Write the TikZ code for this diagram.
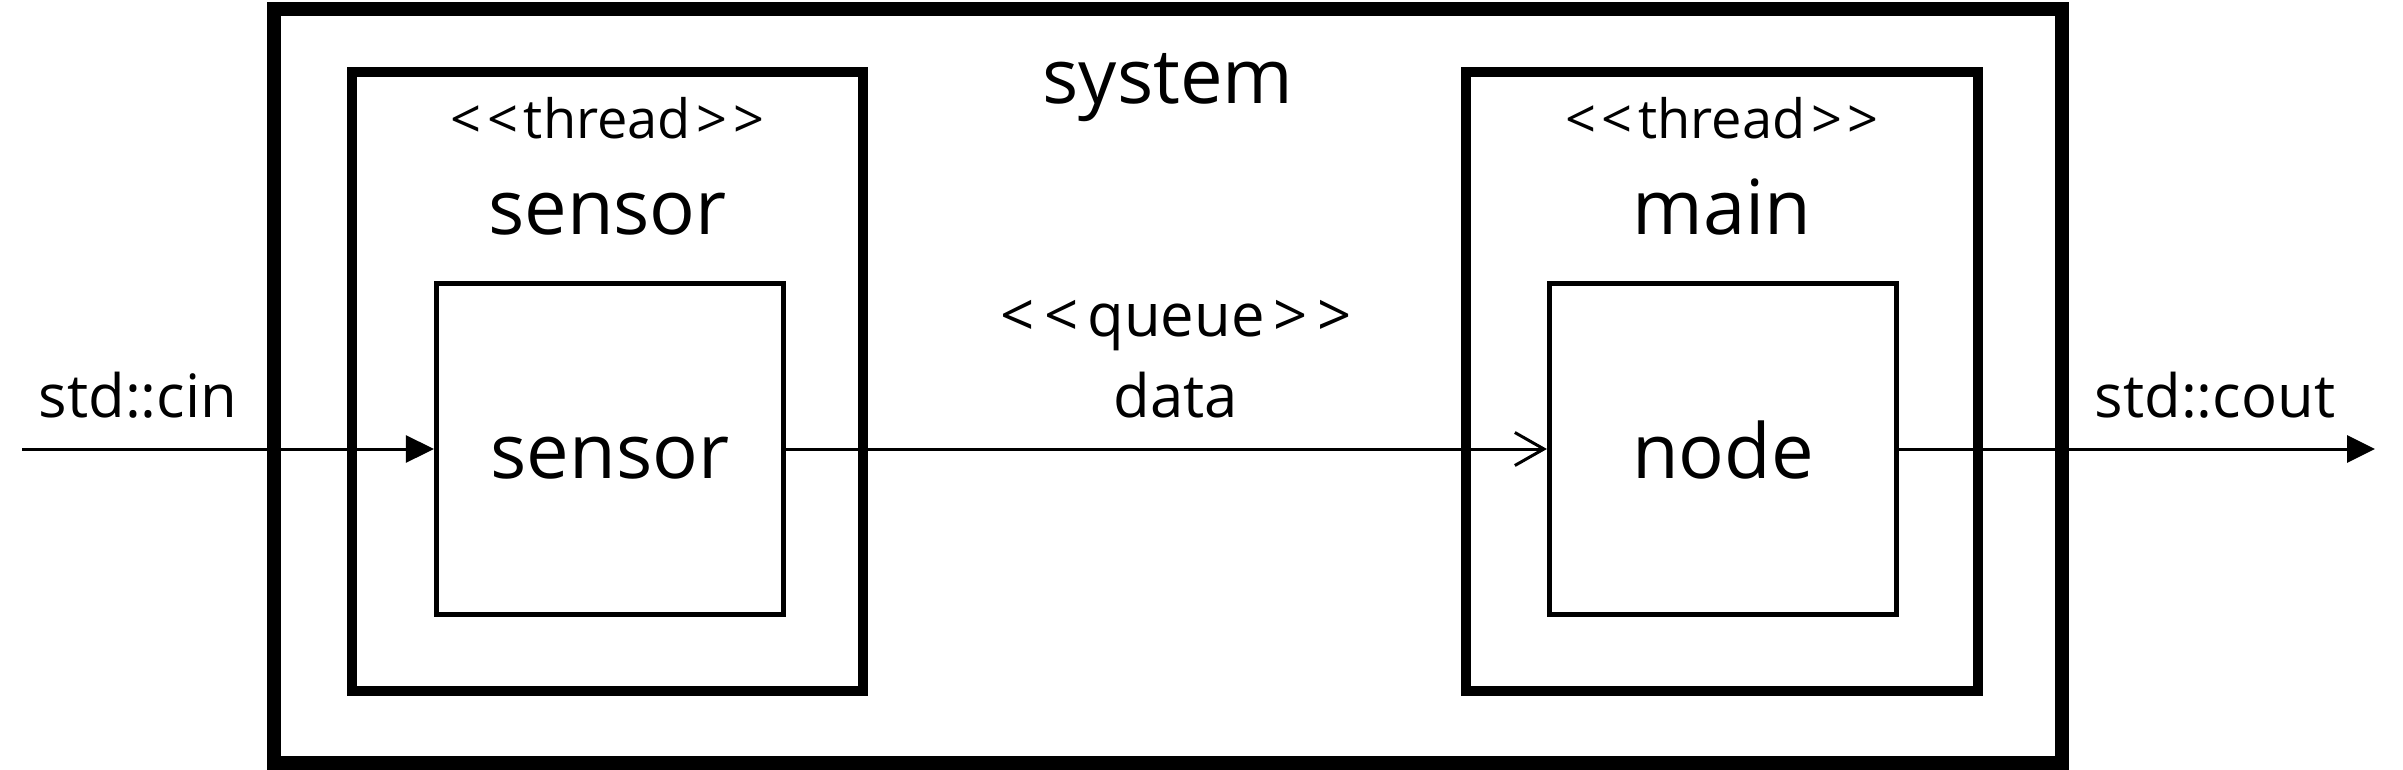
\documentclass[tikz,border=0pt]{standalone}
\usepackage{fontspec}
\setmainfont{Open Sans}
\usetikzlibrary{arrows.meta}
\newcommand{\bkgap}{\kern1.6pt}
\newcommand{\bkgapq}{\kern2.6pt}
\tikzset{
  sysbox/.style={draw, line width=0.14cm, inner sep=0pt, minimum width=17.86cm, minimum height=7.54cm},
  threadbox/.style={draw, line width=0.10cm, inner sep=0pt, minimum width=5.11cm, minimum height=6.19cm},
  objbox/.style={draw, line width=0.05cm, inner sep=0pt, minimum width=3.47cm, minimum height=3.31cm},
  bigtxt/.style={inner sep=0pt, anchor=base, font=\fontsize{21.6pt}{24pt}\selectfont},
  midtxt/.style={inner sep=0pt, anchor=base, font=\fontsize{17pt}{20pt}\selectfont},
  stereo/.style={inner sep=0pt, anchor=base, font=\fontsize{15.4pt}{18pt}\selectfont},
  conn/.style={line width=0.03cm},
  filledtip/.style={-{Triangle[length=0.28cm, width=0.27cm]}},
  opentip/.style={-{Straight Barb[length=0.29cm, width=0.33cm, line width=0.03cm]}}
}
\begin{document}
\begin{tikzpicture}[x=0.01cm, y=-0.01cm]
\useasboundingbox (0,0) rectangle (2403,770);
% boxes
\node[sysbox] (sys) at (1168,386) {};
\node[threadbox] (tsensor) at (607.5,381.5) {};
\node[threadbox] (tmain) at (1722,381.5) {};
\node[objbox] (osensor) at (610,449) {};
\node[objbox] (onode) at (1723,449) {};
% labels
\node[bigtxt] (lsys) at (1168,104) {system};
\node[stereo] (lst1) at (607.5,139) {<\bkgap<\bkgap thread\bkgap>\bkgap>};
\node[bigtxt] (lt1) at (607.5,235) {sensor};
\node[stereo] (lst2) at (1722,139) {<\bkgap<\bkgap thread\bkgap>\bkgap>};
\node[bigtxt] (lt2) at (1722,235) {main};
\node[bigtxt] (lo1) at (610,478) {sensor};
\node[bigtxt] (lo2) at (1723,478) {node};
\node[midtxt] (lq) at (1176,336) {<\bkgapq<\bkgapq queue\bkgapq>\bkgapq>};
\node[midtxt] (ld) at (1176,417) {data};
\node[midtxt] (lin) at (138,417) {std::cin};
\node[midtxt] (lout) at (2215,417) {std::cout};
% connectors
\coordinate (src) at (22,449);
\coordinate (dst) at (2375,449);
\draw[conn, filledtip] (src) -- (osensor.west);
\draw[conn, opentip] (osensor.east) -- (onode.west);
\draw[conn, filledtip] (onode.east) -- (dst);
\end{tikzpicture}
\end{document}
